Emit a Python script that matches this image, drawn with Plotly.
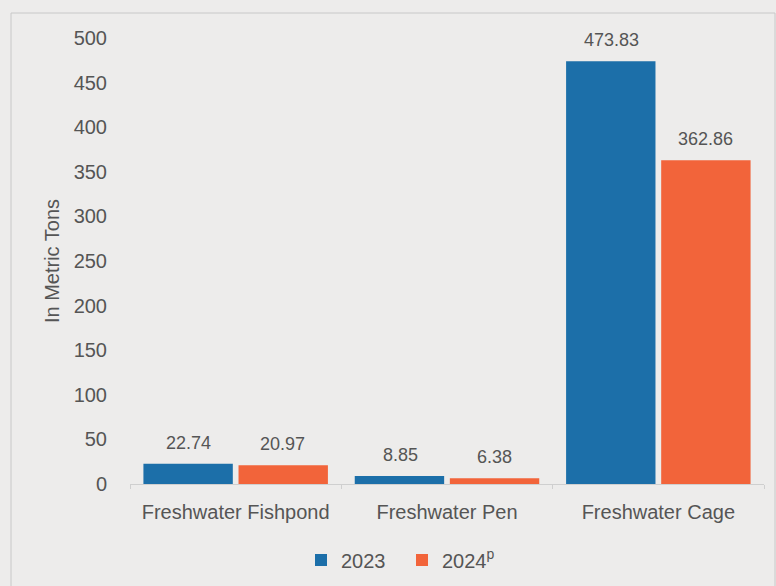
import plotly.graph_objects as go

categories = ["Freshwater Fishpond", "Freshwater Pen", "Freshwater Cage"]
values_2023 = [22.74, 8.85, 473.83]
values_2024 = [20.97, 6.38, 362.86]
series_names = ["2023", "2024<sup>p</sup>"]
y_ticks = [0, 50, 100, 150, 200, 250, 300, 350, 400, 450, 500]

BLUE = "#1c6fa9"
ORANGE = "#f2643a"
TXT = "#555555"
BG = "#edeceb"
FONT = "Liberation Sans, Arial, sans-serif"

fig = go.Figure()
for name, vals, col in [(series_names[0], values_2023, BLUE), (series_names[1], values_2024, ORANGE)]:
    fig.add_trace(go.Bar(
        x=categories, y=vals, name=name, marker=dict(color=col, line=dict(width=0)),
        offsetgroup=name,
    ))

W, H = 776, 586
L, R, T, B = 130, 12, 38, 102
pw, ph = W - L - R, H - T - B

def px_x(x):
    return (x - L) / pw

def px_y(y):
    return (H - B - y) / ph

# value labels above bars (positioned from the data through the axes)
for i, cat in enumerate(categories):
    for vals, xs in [(values_2023, -1), (values_2024, 1)]:
        fig.add_annotation(
            x=cat, y=vals[i], xref="x", yref="y", text=f"{vals[i]:.2f}",
            showarrow=False, yanchor="bottom", yshift=9,
            xshift=xs * 47,
            font=dict(size=18, color=TXT, family=FONT),
        )

fig.add_shape(type="rect", xref="paper", yref="paper",
              x0=px_x(11), x1=px_x(775), y0=px_y(590), y1=px_y(13),
              line=dict(color="#c8c8c8", width=1), layer="below")

fig.update_layout(
    width=W, height=H,
    margin=dict(l=L, r=R, t=T, b=B, autoexpand=False),
    paper_bgcolor=BG, plot_bgcolor=BG,
    barmode="group", bargap=0.1, bargroupgap=0.06,
    font=dict(family=FONT, color=TXT),
    showlegend=True,
    legend=dict(orientation="h", x=px_x(301), xanchor="left", y=px_y(560), yanchor="middle",
                entrywidth=56, font=dict(size=20, color=TXT, family=FONT),
                bgcolor="rgba(0,0,0,0)"),
    xaxis=dict(showgrid=False, showline=True, linecolor="#cfcfcf", linewidth=1,
               ticks="outside", tickson="boundaries", ticklen=4, tickcolor="#cfcfcf",
               ticklabelstandoff=10, automargin=False,
               tickfont=dict(size=20, color=TXT, family=FONT)),
    yaxis=dict(range=[0, 500], tickvals=y_ticks, showgrid=False, zeroline=False,
               showline=False, ticks="", ticklabelstandoff=22, automargin=False,
               tickfont=dict(size=20, color=TXT, family=FONT),
               title=dict(text="In Metric Tons", font=dict(size=20, color=TXT, family=FONT),
                          standoff=8)),
)

fig.write_html("out.html")
